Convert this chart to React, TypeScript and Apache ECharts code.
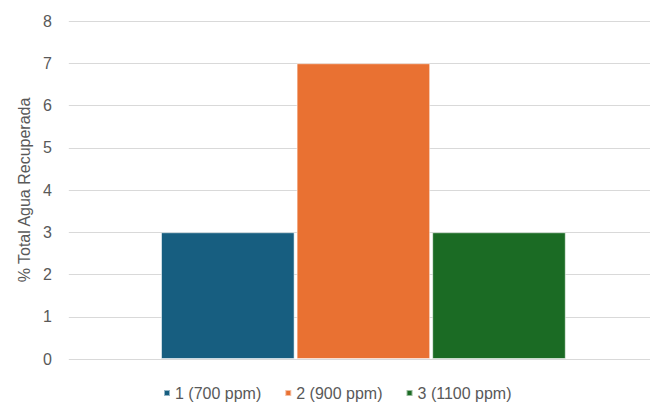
import React, { useEffect, useRef } from "react";
import * as echarts from "echarts";

const categories = ["Agua"];
const seriesNames = ["1 (700 ppm)", "2 (900 ppm)", "3 (1100 ppm)"];
const seriesValues = [[3], [7], [3]];
const seriesColors = ["#175E80", "#E97132", "#1B6B24"];
const yTicks = { min: 0, max: 8, interval: 1 };

export default function App() {
  const ref = useRef<HTMLDivElement>(null);

  useEffect(() => {
    if (!ref.current) return;
    const chart = echarts.init(ref.current, null, { renderer: "svg" });
    const font = "Liberation Sans, Arial, sans-serif";
    chart.setOption({
      animation: false,
      textStyle: { fontFamily: font },
      // plot area runs slightly past the right edge of the canvas
      grid: { left: 52, right: -11, top: 13, bottom: 47 },
      legend: {
        bottom: 0,
        left: 150,
        itemWidth: 6,
        itemHeight: 6,
        itemGap: 23,
        icon: "rect",
        textStyle: { color: "#595959", fontSize: 16, fontFamily: font },
        data: seriesNames,
      },
      xAxis: {
        type: "category",
        data: categories,
        axisLine: { show: false },
        axisTick: { show: false },
        axisLabel: { show: false },
      },
      yAxis: {
        type: "value",
        min: yTicks.min,
        max: yTicks.max,
        interval: yTicks.interval,
        name: "% Total Agua Recuperada",
        nameLocation: "middle",
        nameGap: 35,
        nameTextStyle: { color: "#595959", fontSize: 16, fontFamily: font },
        axisLabel: { color: "#595959", fontSize: 16, margin: 17 },
        axisLine: { show: false },
        axisTick: { show: false },
        splitLine: { lineStyle: { color: "#D9D9D9", width: 1 } },
      },
      series: seriesNames.map((name, i) => ({
        name,
        type: "bar",
        data: seriesValues[i],
        barCategoryGap: "31.3%",
        barGap: "1.5%",
        itemStyle: {
          color: seriesColors[i],
          borderColor: "rgba(255,255,255,0.55)",
          borderWidth: 1,
        },
      })),
    });
    return () => chart.dispose();
  }, []);

  return <div ref={ref} style={{ width: 650, height: 398 }} />;
}
